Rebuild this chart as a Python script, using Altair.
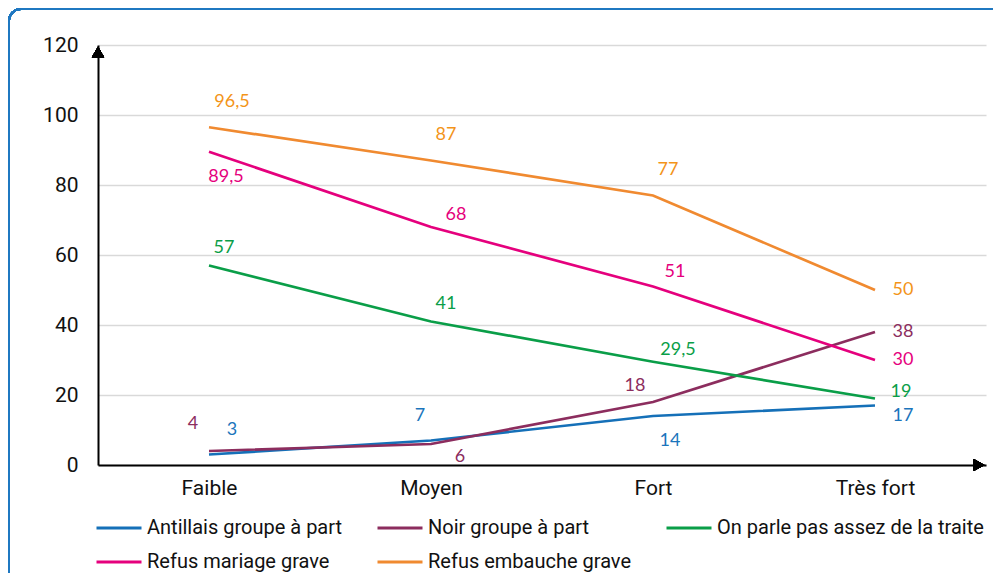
import altair as alt
import pandas as pd

# ---- data -------------------------------------------------------------
CATEGORIES = ["Faible", "Moyen", "Fort", "Très fort"]
SERIES = [
    "Antillais groupe à part",
    "Noir groupe à part",
    "On parle pas assez de la traite",
    "Refus mariage grave",
    "Refus embauche grave",
]
ANTILLAIS = [3, 7, 14, 17]
NOIR = [4, 6, 18, 38]
TRAITE = [57, 41, 29.5, 19]
MARIAGE = [89.5, 68, 51, 30]
EMBAUCHE = [96.5, 87, 77, 50]
Y_TICKS = [0, 20, 40, 60, 80, 100, 120]

# label placement names (style keys, resolved below)
PLACE_ANTILLAIS = ["ne_a", "nw_b", "s", "r_dn"]
PLACE_NOIR = ["nw_a", "se", "nw_c", "r"]
PLACE_TRAITE = ["n", "n", "e", "r_up"]
PLACE_MARIAGE = ["s", "e", "n2", "r"]
PLACE_EMBAUCHE = ["ne_a", "ne_b", "ne_b", "r"]

COLORS = ["#1570b8", "#8c2d5e", "#0a9e48", "#e5007d", "#f08a30"]
LABEL_COLORS = ["#1b75bc", "#8c2d5e", "#0a9e48", "#e5007d", "#f39419"]

# ---- table ------------------------------------------------------------
values = [ANTILLAIS, NOIR, TRAITE, MARIAGE, EMBAUCHE]
places = [PLACE_ANTILLAIS, PLACE_NOIR, PLACE_TRAITE, PLACE_MARIAGE, PLACE_EMBAUCHE]
rows = []
for s, vals, pl in zip(SERIES, values, places):
    for c, v, p in zip(CATEGORIES, vals, pl):
        lab = (str(int(v)) if float(v).is_integer() else str(v).replace(".", ","))
        rows.append({"cat": c, "series": s, "value": v, "label": lab, "pos": p})
df = pd.DataFrame(rows)

# ---- styles -----------------------------------------------------------
PLACEMENTS = {
    "ne_a": (23, -25),
    "ne_b": (15, -26),
    "n": (15, -18),
    "n2": (22, -15),
    "e": (25, -12),
    "s": (17, 25),
    "nw_a": (-16, -27),
    "nw_b": (-11, -25),
    "nw_c": (-18, -16),
    "se": (29, 13),
    "r": (28, 0),
    "r_up": (26, -7),
    "r_dn": (28, 10),
}
TICK_FONT = "Roboto"
LABEL_FONT = "Lato"

W, H = 888, 420

x_enc = alt.X("cat:N", sort=CATEGORIES, scale=alt.Scale(type="point", padding=0.5),
              axis=alt.Axis(title=None, domain=True, domainColor="#000000", domainWidth=2,
                            ticks=False, grid=False, labelFont=TICK_FONT, labelFontSize=21,
                            labelColor="#111111", labelPadding=12, labelAngle=0))
y_enc = alt.Y("value:Q", scale=alt.Scale(domain=[0, 120], nice=False),
              axis=alt.Axis(title=None, values=Y_TICKS, domain=True, domainColor="#000000",
                            domainWidth=2, ticks=False, grid=True, gridColor="#d9d9d9",
                            gridWidth=1.5, labelFont=TICK_FONT, labelFontSize=21,
                            labelColor="#111111", labelPadding=20))

# pad the first-column label with no-break spaces so the legend columns get equal widths
label_expr = ("datum.label == 'Antillais groupe à part' ? "
              "datum.label + '\u00a0\u00a0\u00a0\u00a0\u00a0' : datum.label")

color_enc = alt.Color("series:N", scale=alt.Scale(domain=SERIES, range=COLORS),
                      legend=alt.Legend(title=None, orient="none", legendX=-3, legendY=459,
                                        columns=3, symbolType="stroke", symbolSize=2025,
                                        symbolStrokeWidth=3, labelFont=TICK_FONT,
                                        labelFontSize=20, labelColor="#111111",
                                        labelLimit=500, labelOffset=4, rowPadding=0,
                                        columnPadding=28, direction="horizontal",
                                        labelExpr=label_expr))

lines = alt.Chart(df).mark_line(strokeWidth=2.7).encode(
    x=x_enc, y=y_enc, color=color_enc, detail="series:N")

text_layers = []
for name, (dx, dy) in PLACEMENTS.items():
    t = alt.Chart(df).transform_filter(alt.datum.pos == name).mark_text(
        dx=dx, dy=dy, font=LABEL_FONT, fontSize=18, align="center", baseline="middle"
    ).encode(
        x=alt.X("cat:N", sort=CATEGORIES),
        y=alt.Y("value:Q"),
        text="label:N",
        color=alt.Color("series:N", scale=alt.Scale(domain=SERIES, range=LABEL_COLORS),
                        legend=None),
    )
    text_layers.append(t)

arrow_up = alt.Chart(df).mark_point(shape="triangle-up", filled=True, color="#000000",
                                    size=150, opacity=1).encode(
    x=alt.value(0), y=alt.value(7))
arrow_right = alt.Chart(df).mark_point(shape="triangle-right", filled=True, color="#000000",
                                       size=150, opacity=1).encode(
    x=alt.value(W - 7), y=alt.value(H))

border = alt.Chart(df).mark_rect(fillOpacity=0, stroke="#1f78c1", strokeWidth=2,
                                 cornerRadius=12).encode(
    x=alt.value(-89), y=alt.value(-36), x2=alt.value(W + 60), y2=alt.value(H + 200))

chart = alt.layer(border, lines, *text_layers, arrow_up, arrow_right).resolve_scale(
    color="independent"
).properties(
    width=W, height=H,
    autosize=alt.AutoSizeParams(type="none"),
    padding={"left": 90, "top": 37, "right": 7, "bottom": 108},
    background="#ffffff",
).configure_view(stroke=None)

chart.save("out.html", embed_options={"renderer": "svg", "actions": False})
